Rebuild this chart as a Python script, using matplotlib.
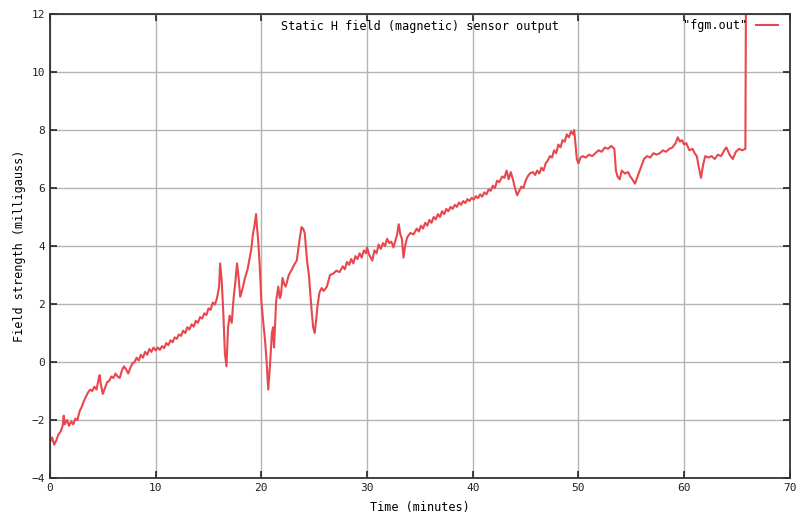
import matplotlib
matplotlib.use('Agg')
import matplotlib.pyplot as plt

# sensor trace (time in minutes, field in milligauss)
# start -> first disturbance
t_early = [0, 0.2, 0.4, 0.6, 0.8, 1.0, 1.2, 1.3, 1.4, 1.6, 1.8, 2.0, 2.2, 2.4, 2.6, 2.8, 3.0, 3.2, 3.4, 3.6,
           3.8, 4.0, 4.2, 4.4, 4.6, 4.7, 4.8, 5.0, 5.2, 5.4, 5.6, 5.8, 6.0, 6.2, 6.4, 6.6, 6.8, 7.0, 7.2, 7.4,
           7.6, 7.8, 8.0, 8.2, 8.4, 8.6, 8.8, 9.0, 9.2, 9.4, 9.6, 9.8, 10.0, 10.2, 10.4, 10.6, 10.8, 11.0,
           11.2, 11.4, 11.6, 11.8, 12.0, 12.2, 12.4, 12.6, 12.8, 13.0, 13.2, 13.4, 13.6, 13.8, 14.0, 14.2,
           14.4, 14.6, 14.8, 15.0, 15.2, 15.4, 15.6, 15.8]
v_early = [-2.75, -2.6, -2.85, -2.7, -2.5, -2.4, -2.2, -1.85, -2.15, -2.0, -2.2, -2.05, -2.15, -1.95, -2.0, -1.7,
           -1.55, -1.35, -1.2, -1.05, -0.95, -1.0, -0.85, -0.95, -0.6, -0.45, -0.75, -1.1, -0.9, -0.7, -0.65, -0.5,
           -0.55, -0.4, -0.5, -0.55, -0.3, -0.15, -0.25, -0.4, -0.2, -0.05, 0.0, 0.15, 0.05, 0.25, 0.15, 0.35,
           0.25, 0.45, 0.35, 0.5, 0.4, 0.5, 0.42, 0.55, 0.48, 0.65, 0.58, 0.75, 0.68, 0.85, 0.8, 0.95,
           0.9, 1.08, 1.0, 1.2, 1.12, 1.3, 1.22, 1.42, 1.35, 1.55, 1.5, 1.68, 1.62, 1.85, 1.8, 2.05,
           1.98, 2.2]

# disturbed stretch, 16-27 min
t_mid = [16.0, 16.1, 16.25, 16.4, 16.55, 16.7, 16.85, 17.0, 17.2, 17.35, 17.55, 17.7, 17.85, 18.0, 18.2, 18.45,
         18.7, 18.9, 19.05, 19.2, 19.35, 19.5, 19.6, 19.7, 19.85, 20.0, 20.2, 20.35, 20.5, 20.65, 20.8, 20.9,
         21.0, 21.1, 21.2, 21.3, 21.4, 21.6, 21.75, 21.85, 22.0, 22.15, 22.3, 22.6, 22.9, 23.1, 23.35, 23.5,
         23.65, 23.8, 23.95, 24.1, 24.25, 24.35, 24.5, 24.6, 24.75, 24.9, 25.05, 25.2, 25.3, 25.5, 25.7, 25.9,
         26.2, 26.5, 26.8, 27.1, 27.4]
v_mid = [2.6, 3.4, 2.8, 1.7, 0.3, -0.15, 1.2, 1.6, 1.35, 2.1, 2.8, 3.4, 2.9, 2.25, 2.5, 2.9,
         3.2, 3.6, 3.9, 4.4, 4.7, 5.1, 4.6, 4.2, 3.3, 2.1, 1.3, 0.75, 0.0, -0.95, -0.2, 0.4,
         1.0, 1.2, 0.5, 1.3, 2.1, 2.6, 2.2, 2.3, 2.9, 2.7, 2.6, 3.0, 3.2, 3.35, 3.5, 3.9,
         4.3, 4.65, 4.6, 4.45, 3.8, 3.4, 3.0, 2.5, 1.8, 1.2, 1.0, 1.5, 1.9, 2.4, 2.55, 2.45,
         2.6, 3.0, 3.05, 3.15, 3.1]

# slow rise, 27-49.6 min
t_rise = [27.7, 27.9, 28.1, 28.3, 28.5, 28.7, 28.9, 29.1, 29.3, 29.5, 29.7, 29.9, 30.0, 30.2, 30.5, 30.7,
          30.9, 31.1, 31.3, 31.5, 31.7, 31.9, 32.1, 32.3, 32.5, 32.7, 32.85, 33.0, 33.15, 33.3, 33.45, 33.6,
          33.8, 34.1, 34.4, 34.7, 34.9, 35.1, 35.3, 35.5, 35.7, 35.9, 36.1, 36.3, 36.5, 36.7, 36.9, 37.1,
          37.3, 37.5, 37.7, 37.9, 38.1, 38.3, 38.5, 38.7, 38.9, 39.1, 39.3, 39.5, 39.7, 39.9, 40.1, 40.3,
          40.5, 40.7, 40.9, 41.1, 41.3, 41.5, 41.7, 41.9, 42.1, 42.3, 42.5, 42.8, 43.0, 43.2, 43.4, 43.6,
          43.8, 44.0, 44.2, 44.4, 44.6, 44.8, 45.0, 45.2, 45.4, 45.7, 45.9, 46.1, 46.3, 46.5, 46.7, 46.9,
          47.1, 47.3, 47.5, 47.7, 47.9, 48.1, 48.3, 48.5, 48.7, 48.9, 49.1, 49.3, 49.5, 49.6]
v_rise = [3.3, 3.2, 3.45, 3.35, 3.55, 3.4, 3.65, 3.55, 3.75, 3.6, 3.85, 3.75, 3.95, 3.7, 3.5, 3.85,
          3.75, 4.05, 3.9, 4.1, 4.0, 4.25, 4.1, 4.15, 3.95, 4.2, 4.4, 4.75, 4.4, 4.25, 3.6, 4.0,
          4.3, 4.45, 4.4, 4.6, 4.5, 4.7, 4.6, 4.8, 4.7, 4.9, 4.8, 5.0, 4.92, 5.1, 5.0, 5.2,
          5.1, 5.28, 5.2, 5.35, 5.28, 5.42, 5.35, 5.5, 5.42, 5.55, 5.48, 5.62, 5.55, 5.66, 5.6, 5.72,
          5.65, 5.78, 5.7, 5.85, 5.78, 5.95, 5.9, 6.08, 6.0, 6.25, 6.2, 6.4, 6.35, 6.6, 6.3, 6.55,
          6.3, 6.0, 5.75, 5.9, 6.05, 6.0, 6.25, 6.4, 6.5, 6.55, 6.45, 6.6, 6.5, 6.7, 6.6, 6.85,
          6.95, 7.1, 7.05, 7.3, 7.2, 7.5, 7.4, 7.65, 7.6, 7.85, 7.75, 7.95, 7.85, 8.0]

# plateau after the step, up to the end of the file
t_late = [49.75, 49.85, 50.0, 50.2, 50.4, 50.7, 51.0, 51.3, 51.6, 51.9, 52.2, 52.5, 52.8, 53.1, 53.4, 53.55,
          53.7, 53.9, 54.1, 54.4, 54.7, 54.9, 55.1, 55.35, 55.6, 55.9, 56.2, 56.5, 56.8, 57.1, 57.4, 57.7,
          58.0, 58.3, 58.6, 58.9, 59.2, 59.4, 59.6, 59.8, 60.0, 60.2, 60.5, 60.8, 61.0, 61.2, 61.4, 61.6,
          61.8, 62.0, 62.3, 62.6, 62.9, 63.2, 63.5, 63.8, 64.0, 64.3, 64.6, 64.9, 65.2, 65.5, 65.8, 65.85]
v_late = [7.4, 7.0, 6.85, 7.05, 7.1, 7.05, 7.15, 7.1, 7.2, 7.3, 7.25, 7.4, 7.35, 7.45, 7.35, 6.6,
          6.4, 6.3, 6.6, 6.5, 6.55, 6.4, 6.3, 6.15, 6.4, 6.7, 7.0, 7.1, 7.05, 7.2, 7.15, 7.2,
          7.3, 7.25, 7.35, 7.4, 7.55, 7.75, 7.6, 7.65, 7.5, 7.55, 7.3, 7.35, 7.2, 7.1, 6.7, 6.35,
          6.8, 7.1, 7.05, 7.1, 7.0, 7.15, 7.1, 7.3, 7.4, 7.15, 7.0, 7.25, 7.35, 7.3, 7.35, 12.5]

time_min = t_early + t_mid + t_rise + t_late
field_mg = v_early + v_mid + v_rise + v_late

x_ticks = [0, 10, 20, 30, 40, 50, 60, 70]
y_ticks = [-4, -2, 0, 2, 4, 6, 8, 10, 12]

mono = 'DejaVu Sans Mono'
red = '#e8474d'

fig = plt.figure(figsize=(8.01, 5.17), dpi=100)
ax = fig.add_axes([0.0624, 0.0754, 0.9236, 0.8975])

ax.plot(time_min, field_mg, color=red, lw=1.5, label='"fgm.out"')

ax.set_xlim(0, 70)
ax.set_ylim(-4, 12)
ax.set_xticks(x_ticks)
ax.set_yticks(y_ticks)
ax.grid(True, color='#b4b4b4', lw=1.0)
ax.tick_params(direction='in', top=True, right=True, length=5, width=1.2,
               labelsize=8, colors='#222222')
for lab in ax.get_xticklabels() + ax.get_yticklabels():
    lab.set_family(mono)
for s in ax.spines.values():
    s.set_color('#333333')
    s.set_linewidth(1.3)

ax.text(0.5, 0.988, 'Static H field (magnetic) sensor output', transform=ax.transAxes,
        ha='center', va='top', family=mono, fontsize=8.5)
ax.set_xlabel('Time (minutes)', family=mono, fontsize=8.5, labelpad=6)
ax.set_ylabel('Field strength (milligauss)', family=mono, fontsize=8.5, labelpad=4)

leg = ax.legend(loc='upper right', frameon=False, markerfirst=False,
                prop={'family': mono, 'size': 8.5}, handlelength=1.8,
                borderaxespad=0.0, bbox_to_anchor=(0.99, 1.0))

fig.savefig('out.png', dpi=100)
